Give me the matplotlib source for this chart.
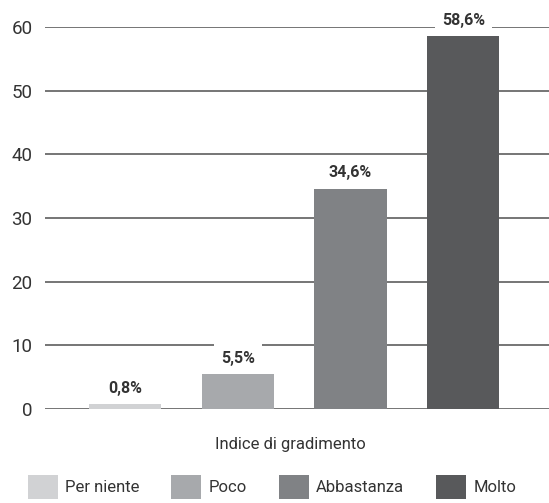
import matplotlib
matplotlib.use('Agg')
import matplotlib.pyplot as plt
from matplotlib.patches import Patch
from matplotlib import font_manager

# gradimento: percentuali per risposta
categories = ['Per niente', 'Poco', 'Abbastanza', 'Molto']
values = [0.8, 5.5, 34.6, 58.6]
value_labels = ['0,8%', '5,5%', '34,6%', '58,6%']
yticks = [0, 10, 20, 30, 40, 50, 60]
colors = ['#d1d2d4', '#a7a9ac', '#808285', '#58595b']

names = {f.name for f in font_manager.fontManager.ttflist}
fam = 'Liberation Sans Narrow' if 'Liberation Sans Narrow' in names else 'Roboto'
plt.rcParams['font.family'] = [fam, 'DejaVu Sans']
txt = '#333333'

f = plt.figure(figsize=(5.49, 5.03), dpi=100)
ax = f.add_axes([45 / 549, 1 - 409 / 503, 504 / 549, 382 / 503])

for y in yticks:
    ax.axhline(y, color='#505050', lw=1.1, zorder=1)

x = range(len(categories))
ax.bar(x, values, width=0.64, color=colors, zorder=2)
for xi, v, lab in zip(x, values, value_labels):
    ax.text(xi, v + 1.3, lab, ha='center', va='bottom', fontsize=11.5,
            fontweight='bold', color=txt, zorder=3,
            bbox=dict(facecolor='white', edgecolor='none', pad=5))

ax.set_xlim(-0.71, 3.76)
ax.set_ylim(0, 60)
ax.set_yticks(yticks)
ax.set_xticks([])
ax.tick_params(axis='y', length=0, pad=9, labelsize=13.5, labelcolor=txt)
for s in ax.spines.values():
    s.set_visible(False)

f.text(290 / 549, 1 - 445 / 503, 'Indice di gradimento', ha='center', va='center',
       fontsize=12, color=txt)

handles = [Patch(facecolor=c, edgecolor='none') for c in colors]
f.legend(handles, categories, loc='center', bbox_to_anchor=(272 / 549, 1 - 487 / 503),
         ncol=4, frameon=False, fontsize=12, handlelength=1.8, handleheight=1.9,
         handletextpad=0.45, columnspacing=1.9, labelcolor=txt)

plt.savefig('out.png', dpi=100)
